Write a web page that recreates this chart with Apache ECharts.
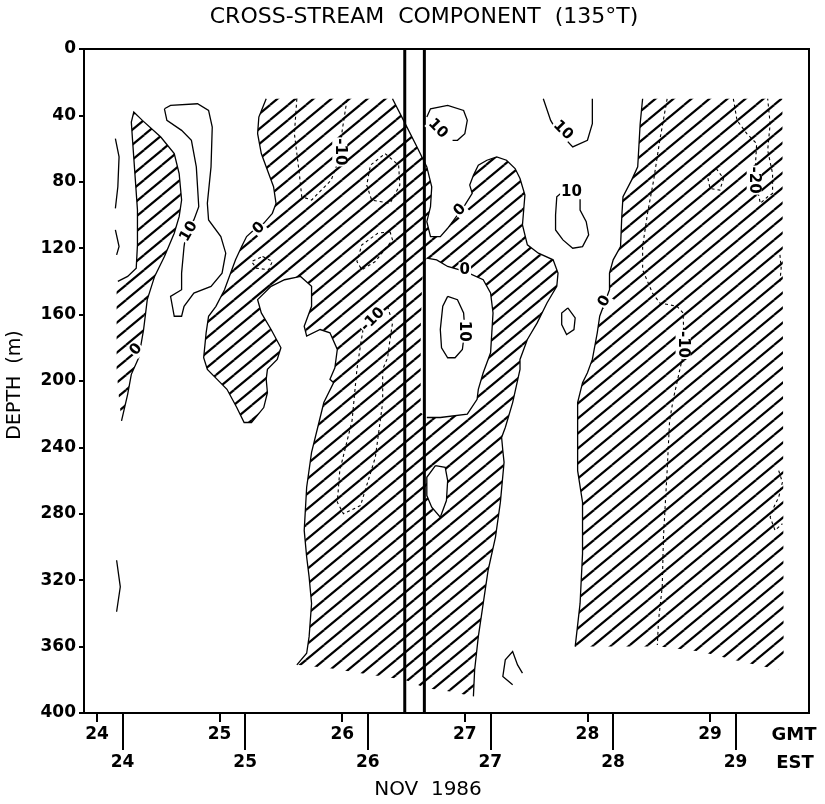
<!DOCTYPE html>
<html>
<head>
<meta charset="utf-8">
<title>Cross-stream component (135°T)</title>
<script src="https://cdn.jsdelivr.net/npm/echarts@6/dist/echarts.min.js"></script>
<style>
  html, body { margin: 0; padding: 0; background: #fff; }
  #chart { width: 825px; height: 804px; }
</style>
</head>
<body>
<div id="chart"></div>
<script>
// x = day of November 1986 (GMT), y = depth (m)
const gmtDays = [24, 25, 26, 27, 28, 29];
const estDays = [24, 25, 26, 27, 28, 29];
const estOffset = 5 / 24; // EST = GMT - 5 h
const xMin = 23.894, xMax = 29.807;

// data gap (two vertical lines)
const gapDays = [26.51, 26.67];

// hatched regions: negative cross-stream velocity (0 contour outlines)
const negA = [[24.30,38],[24.37,43],[24.52,53],[24.63,63],[24.67,75],[24.69,91],[24.67,101],[24.63,111],[24.55,125],[24.47,137],[24.41,151],[24.38,169],[24.34,186],[24.28,196],[24.25,208],[24.20,224],[24.18,211],[24.16,193],[24.16,169],[24.16,145],[24.17,140],[24.25,137],[24.32,132],[24.33,118],[24.33,97],[24.31,76],[24.29,55],[24.28,44]];
const negB = [[25.38,30],[26.41,30],[26.50,43],[26.61,59],[26.69,71],[26.73,83],[26.72,95],[26.69,104],[26.72,113],[26.80,113],[26.86,108],[26.92,102],[27.00,94],[27.06,87],[27.04,82],[27.07,76],[27.11,70],[27.18,67],[27.26,65],[27.34,67],[27.41,72],[27.45,78],[27.49,88],[27.48,97],[27.47,106],[27.51,118],[27.60,123],[27.72,127],[27.76,135],[27.75,143],[27.67,153],[27.59,165],[27.51,175],[27.45,187],[27.45,193],[27.39,213],[27.33,228],[27.30,234],[27.31,242],[27.32,249],[27.29,273],[27.25,294],[27.19,314],[27.15,334],[27.11,354],[27.08,374],[27.07,390],[26.88,387],[26.68,385],[26.51,380],[26.23,377],[25.90,373],[25.63,371],[25.71,364],[25.73,354],[25.75,334],[25.73,318],[25.71,306],[25.69,290],[25.71,264],[25.75,243],[25.80,228],[25.85,213],[25.93,201],[25.90,199],[25.94,192],[25.96,181],[25.90,171],[25.82,169],[25.71,173],[25.69,167],[25.75,155],[25.75,143],[25.66,137],[25.53,139],[25.42,143],[25.31,151],[25.34,159],[25.42,169],[25.50,180],[25.47,187],[25.39,193],[25.38,199],[25.39,207],[25.36,216],[25.26,225],[25.20,225],[25.14,216],[25.06,205],[24.98,199],[24.90,193],[24.87,186],[24.89,171],[24.91,161],[24.97,155],[25.04,145],[25.09,135],[25.13,127],[25.18,119],[25.22,113],[25.31,107],[25.36,105],[25.43,99],[25.46,93],[25.44,83],[25.40,75],[25.34,63],[25.31,51],[25.32,41]];
const negD = [[28.45,30],[29.59,30],[29.60,366],[29.56,374],[29.25,369],[28.92,363],[28.59,360],[27.90,360],[27.94,334],[27.96,304],[27.96,273],[27.92,254],[27.92,234],[27.92,213],[27.96,201],[28.00,195],[28.04,187],[28.08,171],[28.10,161],[28.14,153],[28.18,145],[28.18,135],[28.21,127],[28.27,119],[28.28,101],[28.29,89],[28.36,79],[28.41,71],[28.43,45]];
// which parts of each outline are contour lines (the rest is the edge of the data)
const negEdges = [[[20, 15]], [[1, 46], [52, 0]], [[7, 0]]];

// positive pockets inside the hatching
const holeA = [[26.69,126],[26.77,127],[26.86,131],[27.00,134],[27.15,139],[27.21,147],[27.23,159],[27.22,171],[27.21,183],[27.15,195],[27.11,205],[27.10,211],[27.02,220],[26.80,222],[26.69,222],[26.64,219],[26.64,199],[26.64,169],[26.65,145],[26.66,130]];
const holeB = [[26.76,251],[26.84,252],[26.86,260],[26.85,272],[26.80,282],[26.73,276],[26.69,269],[26.69,258]];
const holeEdges = [[[0, 14]], [[0, 0]]];

// solid contours (0 and +10 cm/s)
const pos1 = [[24.15,54],[24.18,65],[24.17,83],[24.15,96]];
const pos2 = [[24.15,109],[24.18,119],[24.16,124]];
const pos3 = [[24.16,308],[24.19,324],[24.16,339]];
const pos4 = [[24.55,36],[24.60,34],[24.82,33],[24.91,37],[24.94,47],[24.93,71],[24.90,93],[24.91,103],[25.01,113],[25.05,123],[25.02,135],[24.93,143],[24.79,147],[24.71,155],[24.69,161],[24.63,161],[24.60,149],[24.69,145],[24.69,135],[24.71,119],[24.73,109],[24.79,103],[24.83,95],[24.81,71],[24.77,55],[24.69,49],[24.57,43],[24.55,36]];
const pos5 = [[26.69,41],[26.72,36],[26.86,34],[26.99,37],[27.02,43],[27.00,51],[26.94,55],[26.90,55]];
const pos6 = [[27.64,30],[27.70,43],[27.74,48],[27.88,59],[28.00,55],[28.04,45],[28.04,30]];
const pos7 = [[27.83,84],[27.75,89],[27.74,100],[27.74,109],[27.80,115],[27.88,120],[27.96,119],[28.01,112],[27.99,104],[27.94,97],[27.94,89],[27.90,85],[27.83,84]];
const pos8 = [[26.86,149],[26.82,155],[26.80,169],[26.81,180],[26.86,186],[26.92,186],[26.98,181],[27.00,169],[26.99,159],[26.94,151],[26.86,149]];
const pos9 = [[27.39,383],[27.31,378],[27.33,368],[27.39,363],[27.43,371],[27.47,376]];
const pos10 = [[27.84,156],[27.90,162],[27.89,169],[27.83,172],[27.79,166],[27.79,159],[27.84,156]];
const posLines = [pos1, pos2, pos3, pos4, pos5, pos6, pos7, pos8, pos9, pos10];

// dashed contours (-10 and -20 cm/s)
const neg1 = [[25.63,30],[25.61,51],[25.65,75],[25.67,89],[25.75,91],[25.91,79],[25.97,67],[26.00,49],[26.04,30]];
const neg2 = [[26.35,63],[26.46,70],[26.47,82],[26.39,93],[26.24,91],[26.20,82],[26.23,70],[26.35,63]];
const neg3 = [[26.39,110],[26.41,115],[26.27,128],[26.16,133],[26.12,128],[26.16,118],[26.29,111],[26.39,110]];
const neg4 = [[25.35,125],[25.43,128],[25.40,133],[25.30,132],[25.26,128],[25.35,125]];
const neg5 = [[26.37,155],[26.41,165],[26.39,175],[26.37,186],[26.33,193],[26.33,213],[26.27,246],[26.17,270],[26.15,275],[26.01,280],[25.96,273],[25.98,254],[26.08,224],[26.12,193],[26.15,178],[26.17,169],[26.37,155]];
const neg6 = [[28.65,30],[28.59,55],[28.54,79],[28.49,99],[28.45,119],[28.45,133],[28.53,147],[28.59,153],[28.73,155],[28.78,159],[28.79,181],[28.70,211],[28.67,224],[28.65,254],[28.62,294],[28.61,324],[28.58,344],[28.57,359]];
const neg7 = [[29.19,30],[29.22,43],[29.30,51],[29.38,57],[29.37,70],[29.38,82],[29.41,93],[29.47,89],[29.51,87],[29.51,75],[29.47,61],[29.49,45],[29.47,30]];
const neg8 = [[29.05,72],[29.11,78],[29.08,85],[29.00,84],[28.98,77],[29.05,72]];
const neg9 = [[29.56,254],[29.59,261],[29.56,270],[29.52,276],[29.49,282],[29.53,290],[29.59,286]];
const neg10 = [[29.57,124],[29.58,132],[29.57,140]];
const negLines = [neg1, neg2, neg3, neg4, neg5, neg6, neg7, neg8, neg9, neg10];

// contour labels
const labelPos = [[24.32,181],[25.32,108],[26.96,97],[27.00,133],[28.14,152],[24.75,110],[26.78,48],[27.80,49],[27.87,86],[26.99,170],[25.98,62],[26.25,163],[28.78,178],[29.36,79]];
const labelText = ['0','0','0','0','0','10','10','10','10','10','-10','-10','-10','-20'];
const labelAngle = [50, 45, 45, 0, 60, 60, -45, -45, 0, -90, -90, 45, -90, -90];

const FONT = "'DejaVu Sans', sans-serif";

function hatchTile() {
    const W = 18, H = 15;
    const c = document.createElement('canvas');
    c.width = W; c.height = H;
    const g = c.getContext('2d');
    g.strokeStyle = '#000';
    g.lineWidth = 2.2;
    for (let i = -1; i <= 1; i++) {
        for (let j = -1; j <= 1; j++) {
            g.beginPath();
            g.moveTo(i * W, H + j * H);
            g.lineTo(W + i * W, j * H);
            g.stroke();
        }
    }
    return c;
}
const hatch = { image: hatchTile(), repeat: 'repeat' };

// points a..b along a closed outline (a === b gives the whole loop)
function walk(pts, a, b) {
    const n = pts.length, out = [pts[a]];
    let i = a;
    do { i = (i + 1) % n; out.push(pts[i]); } while (i !== b);
    return out;
}

function outlineSeries(name, regions, edges, fill, z) {
    return {
        name, type: 'custom', coordinateSystem: 'cartesian2d', z, silent: true,
        data: regions.map((r, i) => [r[0][0], r[0][1], i]),
        renderItem: (params, api) => {
            const k = api.value(2);
            const pts = regions[k].map(p => api.coord(p));
            const children = [{ type: 'polygon', shape: { points: pts }, style: { fill, stroke: 'none' } }];
            edges[k].forEach(([a, b]) => children.push({
                type: 'polyline', shape: { points: walk(pts, a, b) },
                style: { fill: 'none', stroke: '#000', lineWidth: 1.3 }
            }));
            return { type: 'group', children };
        }
    };
}

function lineSeries(name, lines, dash, z) {
    return {
        name, type: 'custom', coordinateSystem: 'cartesian2d', z, silent: true,
        data: lines.map((l, i) => [l[0][0], l[0][1], i]),
        renderItem: (params, api) => ({
            type: 'polyline',
            shape: { points: lines[api.value(2)].map(p => api.coord(p)) },
            style: { fill: 'none', stroke: '#000', lineWidth: dash ? 1.1 : 1.3, lineDash: dash ? [3, 3] : null }
        })
    };
}

const tickFont = { color: '#000', fontFamily: FONT, fontWeight: 'bold', fontSize: 17 };

const chart = echarts.init(document.getElementById('chart'));

const option = {
    animation: false,
    backgroundColor: '#fff',
    grid: { left: 84, right: 16, top: 49, bottom: 91, show: true, borderColor: '#000', borderWidth: 2 },
    xAxis: [{
        // frame axis carrying the series
        type: 'value', min: xMin, max: xMax, position: 'bottom',
        axisLine: { show: true, onZero: false, lineStyle: { color: '#000', width: 2 } },
        axisTick: { show: false },
        axisLabel: { show: false },
        splitLine: { show: false }
    }, {
        // GMT days
        type: 'value', min: xMin, max: xMax, position: 'bottom', offset: 0,
        axisLine: { show: false, onZero: false },
        axisTick: { show: true, customValues: gmtDays, length: 9, lineStyle: { color: '#000', width: 2 } },
        axisLabel: Object.assign({ customValues: gmtDays, formatter: v => String(Math.round(v)), margin: 13 }, tickFont),
        splitLine: { show: false }
    }, {
        // EST days
        type: 'value', min: xMin, max: xMax, position: 'bottom', offset: 0,
        axisLine: { show: false, onZero: false },
        axisTick: { show: true, customValues: estDays.map(d => d + estOffset), length: 37, lineStyle: { color: '#000', width: 2 } },
        axisLabel: Object.assign({ customValues: estDays.map(d => d + estOffset), formatter: v => String(Math.round(v - estOffset)), margin: 41 }, tickFont),
        splitLine: { show: false }
    }],
    yAxis: {
        type: 'value', inverse: true, min: 0, max: 400, interval: 40,
        axisLine: { show: true, onZero: false, lineStyle: { color: '#000', width: 2 } },
        axisTick: { show: true, length: 5, lineStyle: { color: '#000', width: 2 } },
        axisLabel: Object.assign({ margin: 8 }, tickFont),
        splitLine: { show: false }
    },
    graphic: [
        { type: 'text', x: 424, y: 17, style: { text: 'CROSS-STREAM  COMPONENT  (135°T)', font: '22px ' + FONT, fill: '#000', align: 'center', verticalAlign: 'middle', textAlign: 'center', textVerticalAlign: 'middle' } },
        { type: 'text', x: 15, y: 385, rotation: Math.PI / 2, style: { text: 'DEPTH  (m)', font: '19px ' + FONT, fill: '#000', align: 'center', verticalAlign: 'middle', textAlign: 'center', textVerticalAlign: 'middle' } },
        { type: 'text', x: 794, y: 735, style: { text: 'GMT', font: 'bold 18px ' + FONT, fill: '#000', align: 'center', verticalAlign: 'middle', textAlign: 'center', textVerticalAlign: 'middle' } },
        { type: 'text', x: 795, y: 763, style: { text: 'EST', font: 'bold 18px ' + FONT, fill: '#000', align: 'center', verticalAlign: 'middle', textAlign: 'center', textVerticalAlign: 'middle' } },
        { type: 'text', x: 428, y: 790, style: { text: 'NOV  1986', font: '20px ' + FONT, fill: '#000', align: 'center', verticalAlign: 'middle', textAlign: 'center', textVerticalAlign: 'middle' } }
    ],
    series: [
        outlineSeries('negative', [negA, negB, negD], negEdges, hatch, 2),
        outlineSeries('positive pockets', [holeA, holeB], holeEdges, '#fff', 3),
        lineSeries('positive contours', posLines, false, 4),
        lineSeries('negative contours', negLines, true, 4),
        {
            name: 'gap', type: 'custom', coordinateSystem: 'cartesian2d', z: 5, silent: true,
            data: gapDays.map(d => [d, 0]),
            renderItem: (params, api) => {
                const a = api.coord([api.value(0), 0]);
                const b = api.coord([api.value(0), 400]);
                return { type: 'line', shape: { x1: a[0], y1: a[1], x2: b[0], y2: b[1] }, style: { stroke: '#000', lineWidth: 3 } };
            }
        },
        {
            name: 'labels', type: 'custom', coordinateSystem: 'cartesian2d', z: 6, silent: true,
            data: labelPos.map((p, i) => [p[0], p[1], i]),
            renderItem: (params, api) => {
                const i = api.value(2);
                const c = api.coord([api.value(0), api.value(1)]);
                return {
                    type: 'text', x: c[0], y: c[1], rotation: labelAngle[i] * Math.PI / 180,
                    style: {
                        text: labelText[i], font: 'bold 15px ' + FONT, fill: '#000',
                        align: 'center', verticalAlign: 'middle', textAlign: 'center', textVerticalAlign: 'middle',
                        backgroundColor: '#fff', padding: [0, 1]
                    }
                };
            }
        }
    ]
};

chart.setOption(option);
</script>
</body>
</html>
